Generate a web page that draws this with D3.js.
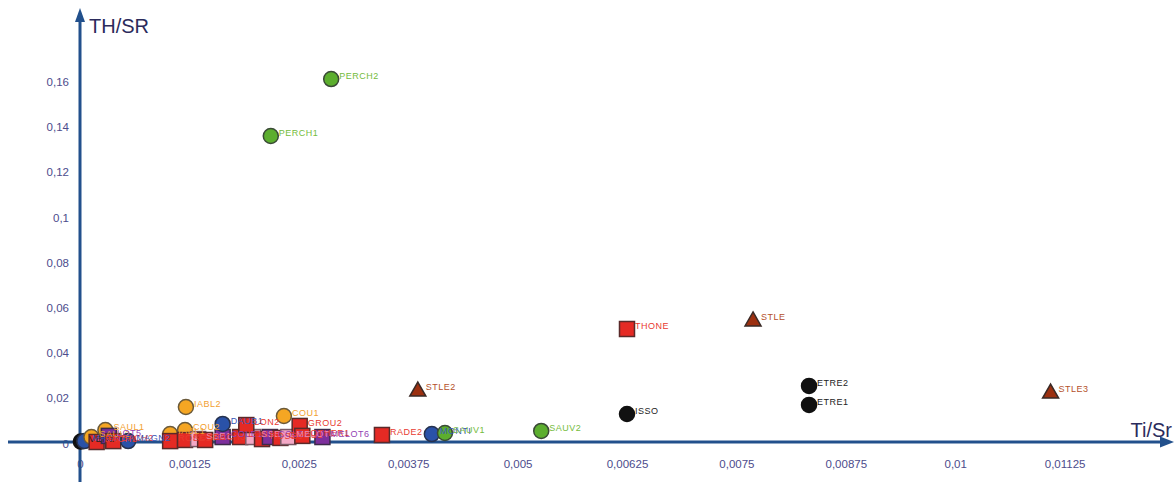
<!DOCTYPE html>
<html>
<head>
<meta charset="utf-8">
<script src="https://cdn.jsdelivr.net/npm/d3@7"></script>
<style>
  html, body { margin: 0; padding: 0; background: #fff; }
  svg { display: block; }
</style>
</head>
<body>
<svg id="chart" width="1174" height="482"></svg>
<script>
// Sample names, Ti/Sr and TH/SR ratios, and sample group
const names = [
  "VER1", "MAGN1", "SAUL2", "BACH1", "SAUL1", "LOT5", "BACH2", "MAGN2",
  "IABL1", "ROSE1", "COU2", "ROSE2", "SSE1", "BACH3", "COLE1", "DAUB1",
  "LON1", "SSE2", "LON2", "ROSE3", "COLE2", "GROU1", "MELOT4", "IABL2",
  "GROU2", "OTHER1", "COU1", "MELOT6", "RADE2", "MONTI", "SAUV1", "SAUV2",
  "STLE2", "PERCH1", "PERCH2", "THONE", "ISSO", "STLE", "ETRE1", "ETRE2", "STLE3"
];
const tiSr = [
  0.00001, 0.00005, 0.00013, 0.00019, 0.00029, 0.00033, 0.00038, 0.00055,
  0.00103, 0.00103, 0.00120, 0.00120, 0.00135, 0.00143, 0.00163, 0.00163,
  0.00183, 0.00198, 0.00190, 0.00208, 0.00217, 0.00229, 0.00238, 0.00121,
  0.00251, 0.00254, 0.00233, 0.00277, 0.00345, 0.00402, 0.00417, 0.00527,
  0.00386, 0.00218, 0.00287, 0.00625, 0.00625, 0.00769, 0.00833, 0.00833, 0.01109
];
const thSr = [
  0.0002, 0.0004, 0.0022, 0.0000, 0.0053, 0.0027, 0.0004, 0.0004,
  0.0035, 0.0004, 0.0053, 0.0009, 0.0013, 0.0009, 0.0022, 0.0080,
  0.0022, 0.0022, 0.0075, 0.0013, 0.0022, 0.0018, 0.0022, 0.0155,
  0.0071, 0.0027, 0.0115, 0.0022, 0.0031, 0.0035, 0.0040, 0.0049,
  0.0230, 0.1354, 0.1606, 0.0500, 0.0124, 0.0540, 0.0164, 0.0248, 0.0221
];
const groups = [
  "black", "blue", "orange", "red", "orange", "purple", "red", "blue",
  "orange", "red", "orange", "red", "pink", "red", "purple", "blue",
  "red", "pink", "red", "red", "purple", "red", "pink", "orange",
  "red", "red", "orange", "purple", "red", "blue", "green", "green",
  "brown", "green", "green", "red", "black", "brown", "black", "black", "brown"
];

const xTicks = [0, 0.00125, 0.0025, 0.00375, 0.005, 0.00625, 0.0075, 0.00875, 0.01, 0.01125];
const xTickLabels = ["0", "0,00125", "0,0025", "0,00375", "0,005", "0,00625", "0,0075", "0,00875", "0,01", "0,01125"];
const yTicks = [0, 0.02, 0.04, 0.06, 0.08, 0.1, 0.12, 0.14, 0.16];
const yTickLabels = ["0", "0,02", "0,04", "0,06", "0,08", "0,1", "0,12", "0,14", "0,16"];

// Group styling
const fillColor = {
  black: "#111111", blue: "#2a52a8", orange: "#f5a623", red: "#e52a24",
  purple: "#7d2f9c", pink: "#f3a8c6", green: "#5cae2e", brown: "#9c3010"
};
const strokeColor = {
  black: "#111111", blue: "#26324f", orange: "#6b5a3a", red: "#5a2a2a",
  purple: "#3d2a4a", pink: "#7a5a66", green: "#3a4a36", brown: "#3a2a26"
};
const labelColor = {
  black: "#222222", blue: "#3a58b8", orange: "#f2a030", red: "#e83a30",
  purple: "#9342b4", pink: "#ee88aa", green: "#74bc3c", brown: "#b4502a"
};
const shapeOf = {
  black: "circle", blue: "circle", orange: "circle", green: "circle",
  red: "square", purple: "square", pink: "square", brown: "triangle"
};

const svg = d3.select("#chart");
const axisColor = "#22508c";
const tickColor = "#4c4c8c";
const font = "'Liberation Sans', Arial, sans-serif";

const x = d3.scaleLinear().domain([0, 0.01125]).range([80, 1064.6]);
const y = d3.scaleLinear().domain([0, 0.16]).range([442, 80.4]);

// Tick labels
const xAxis = d3.axisBottom(x)
  .tickValues(xTicks)
  .tickSize(0)
  .tickPadding(18)
  .tickFormat((d, i) => xTickLabels[i]);
const gx = svg.append("g").attr("transform", `translate(0,${y(0)})`).call(xAxis);
gx.select(".domain").remove();
gx.selectAll("text")
  .attr("fill", tickColor)
  .style("font-family", font)
  .style("font-size", "11.5px");

const yAxis = d3.axisLeft(y)
  .tickValues(yTicks)
  .tickSize(0)
  .tickPadding(11)
  .tickFormat((d, i) => yTickLabels[i]);
const gy = svg.append("g").attr("transform", `translate(${x(0)},0)`).call(yAxis);
gy.select(".domain").remove();
gy.selectAll("text")
  .attr("fill", tickColor)
  .attr("dy", "0.45em")
  .style("font-family", font)
  .style("font-size", "11.5px");

// Axis lines with arrowheads
const x0 = x(0), y0 = y(0);
svg.append("line")
  .attr("x1", 8).attr("y1", y0).attr("x2", 1162).attr("y2", y0)
  .attr("stroke", axisColor).attr("stroke-width", 3);
svg.append("path")
  .attr("d", `M1174,${y0} L1160,${y0 - 5.5} L1160,${y0 + 5.5} Z`)
  .attr("fill", axisColor);
svg.append("line")
  .attr("x1", x0).attr("y1", 482).attr("x2", x0).attr("y2", 20)
  .attr("stroke", axisColor).attr("stroke-width", 3);
svg.append("path")
  .attr("d", `M${x0},8 L${x0 - 5},22 L${x0 + 5},22 Z`)
  .attr("fill", axisColor);

// Axis titles
svg.append("text")
  .attr("x", 89).attr("y", 33)
  .attr("fill", "#2b2b5c")
  .style("font-family", font)
  .style("font-size", "20px")
  .text("TH/SR");
svg.append("text")
  .attr("x", 1172).attr("y", 437)
  .attr("text-anchor", "end")
  .attr("fill", "#2b2b5c")
  .style("font-family", font)
  .style("font-size", "20px")
  .text("Ti/Sr");

// Points
const data = names.map((n, i) => ({ name: n, tx: tiSr[i], th: thSr[i], g: groups[i] }));
const pts = svg.append("g");
data.forEach(d => {
  const cx = x(d.tx), cy = y(d.th);
  const shape = shapeOf[d.g];
  let m;
  if (shape === "circle") {
    m = pts.append("circle").attr("cx", cx).attr("cy", cy).attr("r", 7.5);
  } else if (shape === "square") {
    m = pts.append("rect").attr("x", cx - 7.5).attr("y", cy - 7.5).attr("width", 15).attr("height", 15);
  } else {
    m = pts.append("path").attr("d", `M${cx},${cy - 8} L${cx + 8},${cy + 6} L${cx - 8},${cy + 6} Z`);
  }
  m.attr("fill", fillColor[d.g])
   .attr("stroke", strokeColor[d.g])
   .attr("stroke-width", 1.5);
});

// Sample labels
const labels = svg.append("g");
data.forEach(d => {
  labels.append("text")
    .attr("x", x(d.tx) + 8)
    .attr("y", y(d.th))
    .attr("fill", labelColor[d.g])
    .style("font-family", font)
    .style("font-size", "9px")
    .style("letter-spacing", "0.5px")
    .text(d.name);
});
</script>
</body>
</html>
